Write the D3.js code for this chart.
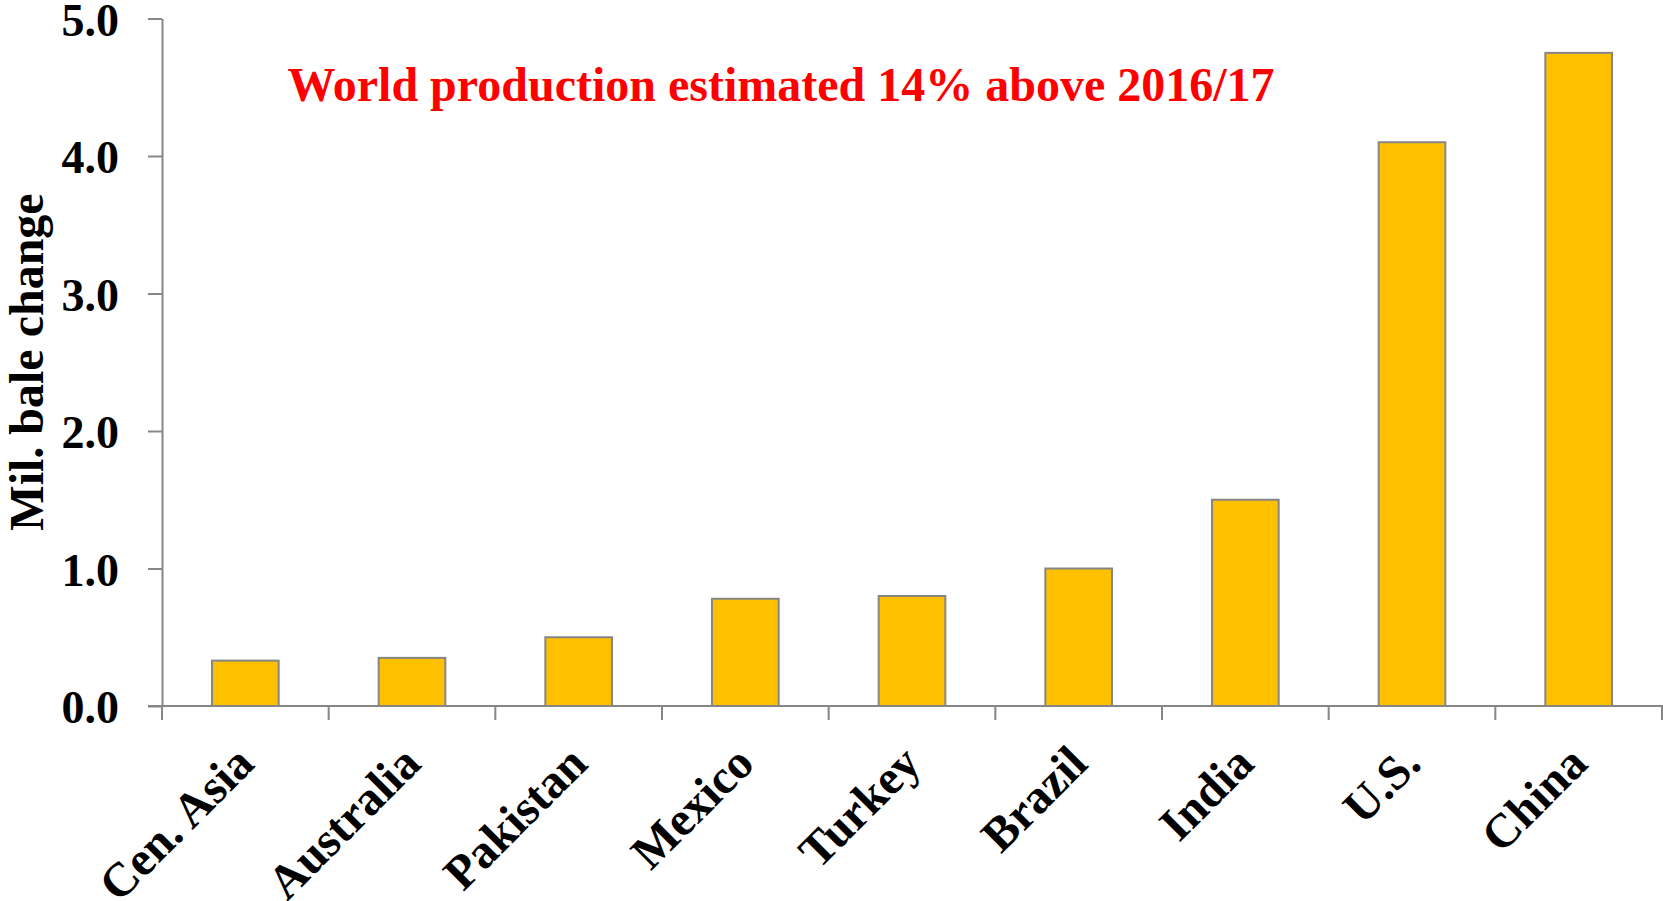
<!DOCTYPE html>
<html>
<head>
<meta charset="utf-8">
<script src="https://cdn.jsdelivr.net/npm/d3@7"></script>
<style>
  body { margin: 0; background: #fff; }
  text { font-family: "Liberation Serif", "Times New Roman", serif; font-weight: bold; }
</style>
</head>
<body>
<svg id="chart" width="1663" height="901"></svg>
<script>
// data
const regions = ["Cen. Asia", "Australia", "Pakistan", "Mexico", "Turkey", "Brazil", "India", "U.S.", "China"];
const changes = [0.33, 0.35, 0.5, 0.78, 0.8, 1.0, 1.5, 4.1, 4.75];
const yTicks = [0, 1, 2, 3, 4, 5];
const note = "World production estimated 14% above 2016/17";
const yLabel = "Mil. bale change";

const data = regions.map((r, i) => ({ region: r, value: changes[i] }));

const svg = d3.select("#chart");

// plot area
const plot = { left: 162, right: 1662, top: 18.5, bottom: 706 };

const xScale = d3.scaleBand()
                 .domain(regions)
                 .range([plot.left, plot.right])
                 .paddingInner(0.6)
                 .paddingOuter(0.3);
const yScale = d3.scaleLinear()
                 .domain([0, 5])
                 .range([plot.bottom, plot.top]);

// bars
svg.selectAll("rect.bar")
   .data(data)
   .enter()
   .append("rect")
   .attr("class", "bar")
   .attr("x", d => xScale(d.region))
   .attr("y", d => yScale(d.value))
   .attr("width", xScale.bandwidth())
   .attr("height", d => yScale(0) - yScale(d.value))
   .attr("fill", "#FFC000")
   .attr("stroke", "#868686")
   .attr("stroke-width", 2);

// y axis
const yAxis = svg.append("g")
                 .attr("transform", `translate(${plot.left}, 0)`)
                 .call(d3.axisLeft(yScale)
                         .tickValues(yTicks)
                         .tickFormat(d3.format(".1f"))
                         .tickSize(14)
                         .tickSizeOuter(0)
                         .tickPadding(29));
yAxis.selectAll("path, line").attr("stroke", "#868686").attr("stroke-width", 2);
yAxis.selectAll("text")
     .attr("font-size", 46)
     .attr("dy", "0.36em")
     .attr("fill", "#000")
     .style("font-family", "'Liberation Serif', serif")
     .style("font-weight", "bold");

// x axis: line plus ticks on band boundaries
const gap = (xScale.step() - xScale.bandwidth()) / 2;
const edges = regions.map(r => xScale(r) - gap);
edges.push(plot.right);
svg.append("line")
   .attr("x1", plot.left - 14).attr("x2", plot.right + 2)
   .attr("y1", plot.bottom).attr("y2", plot.bottom)
   .attr("stroke", "#868686").attr("stroke-width", 2);
svg.selectAll("line.xtick")
   .data(edges)
   .enter()
   .append("line")
   .attr("class", "xtick")
   .attr("x1", d => d).attr("x2", d => d)
   .attr("y1", plot.bottom).attr("y2", plot.bottom + 14)
   .attr("stroke", "#868686").attr("stroke-width", 2);

// rotated category labels
svg.selectAll("text.xlabel")
   .data(regions)
   .enter()
   .append("text")
   .attr("class", "xlabel")
   .attr("text-anchor", "end")
   .attr("font-size", 48)
   .attr("transform", d => `translate(${xScale(d) + xScale.bandwidth() / 2 + 11}, ${plot.bottom + 60}) rotate(-45)`)
   .text(d => d);

// y axis title
svg.append("text")
   .attr("text-anchor", "middle")
   .attr("font-size", 48)
   .attr("transform", `translate(43, 362) rotate(-90)`)
   .text(yLabel);

// annotation
svg.append("text")
   .attr("x", 781)
   .attr("y", 101)
   .attr("text-anchor", "middle")
   .attr("font-size", 48)
   .attr("fill", "#FF0000")
   .text(note);
</script>
</body>
</html>
